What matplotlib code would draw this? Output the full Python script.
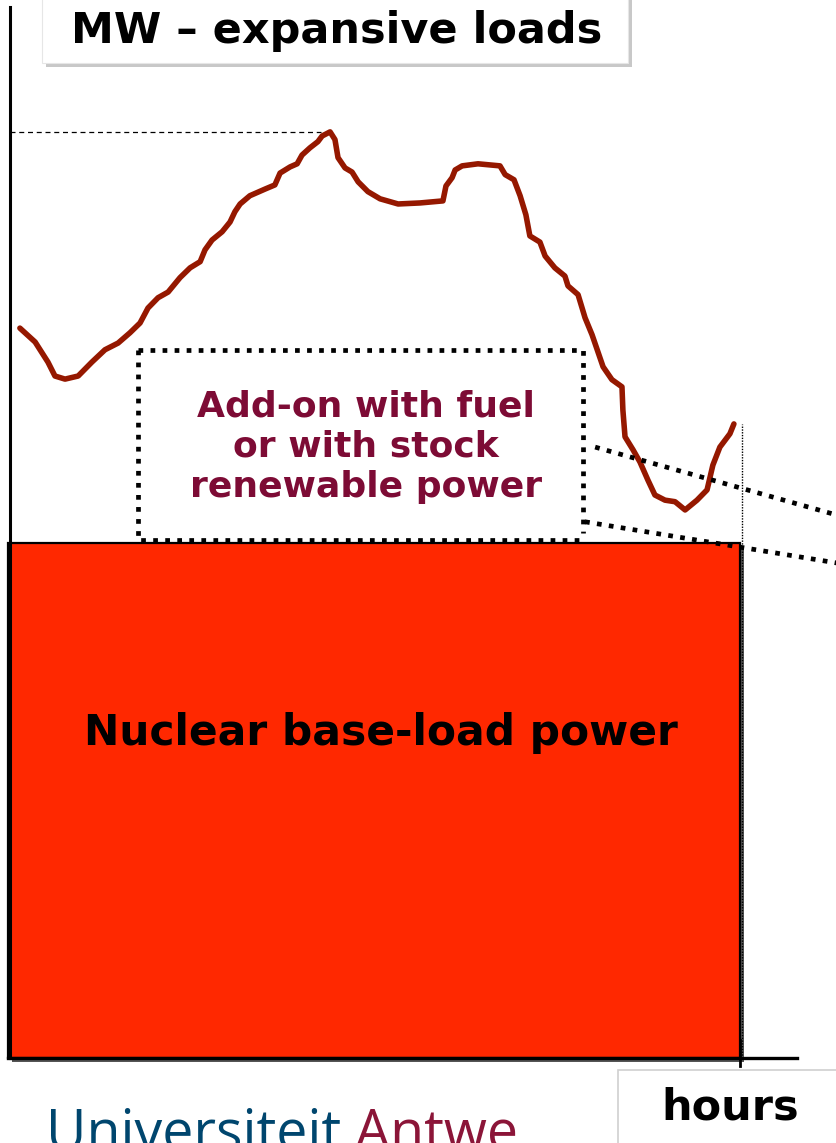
import matplotlib
matplotlib.use("Agg")
import matplotlib.pyplot as plt
from matplotlib.patches import Rectangle

W, H = 837, 1143

# load curve over one day (hours, MW)
hours = [0.39, 0.89, 1.31, 1.54, 1.87, 2.30, 2.75, 3.18, 3.61, 4.00, 4.33, 4.59,
         4.92, 5.25, 5.64, 5.97, 6.30, 6.46, 6.69, 7.02, 7.28, 7.44, 7.61, 7.93,
         8.43, 8.75, 8.92, 9.25, 9.48, 9.64, 9.90, 10.16, 10.30, 10.56, 10.72, 10.82,
         11.05, 11.28, 11.48, 11.80, 12.20, 12.79, 13.51, 14.26, 14.36, 14.56, 14.66,
         14.89, 15.41, 16.13, 16.30, 16.59, 16.79, 16.98, 17.11, 17.44, 17.61, 17.93,
         18.26, 18.36, 18.69, 18.92, 19.15, 19.51, 19.80, 20.13, 20.16, 20.23, 20.49,
         20.72, 20.98, 21.21, 21.54, 21.87, 22.20, 22.59, 22.92, 23.11, 23.34, 23.67,
         23.80]
load = [141.7, 139.0, 135.1, 132.4, 131.8, 132.4, 135.1, 137.5, 138.8, 140.8, 142.7,
        145.6, 147.6, 148.7, 151.5, 153.4, 154.6, 156.9, 158.8, 160.4, 162.3, 164.3,
        165.8, 167.4, 168.7, 169.5, 171.8, 173.0, 173.6, 175.3, 176.7, 177.9, 179.0,
        179.8, 178.3, 174.8, 172.8, 172.0, 170.1, 168.2, 166.8, 165.8, 166.0, 166.4,
        169.3, 170.9, 172.4, 173.2, 173.6, 173.2, 171.5, 170.5, 167.4, 163.7, 159.6,
        158.4, 155.7, 153.4, 151.8, 149.9, 148.2, 143.7, 140.4, 134.2, 131.7, 130.3,
        125.8, 120.6, 118.1, 115.7, 112.2, 109.3, 108.3, 108.0, 106.4, 108.3, 110.3,
        115.1, 118.6, 121.2, 123.1]
base_load = 100
peak_load = 179.8
day_hours = 24

fig = plt.figure(figsize=(W / 100, H / 100), dpi=100)
ax = fig.add_axes([0, 0, 1, 1])
ax.set_xlim(-0.262, 27.18)
ax.set_ylim(-16.5, 205.4)
ax.axis('off')


def fx(px):
    return px / W


def fy(py):
    return 1 - py / H


# nuclear base load block
ax.add_patch(Rectangle((0.12, -0.8), day_hours, base_load, facecolor='#555555',
                       edgecolor='none', zorder=1))
ax.add_patch(Rectangle((0, 0), day_hours, base_load, facecolor='#ff2800',
                       edgecolor='black', linewidth=1.6, zorder=2))

# axes lines
ax.plot([0.07, 0.07], [0, 204], color='black', lw=2.2, zorder=3)
ax.plot([0, 25.87], [0, 0], color='black', lw=2.4, zorder=3)
ax.plot([day_hours, day_hours], [-1.6, 3.5], color='black', lw=2.0, zorder=3)
ax.plot([day_hours + 0.05, day_hours + 0.05], [0, load[-1]], color='black',
        lw=1.0, linestyle=(0, (1, 1)), zorder=3)

# peak reference line
ax.plot([0.07, hours[33] - 0.3], [peak_load, peak_load], color='black', lw=0.9,
        linestyle=(0, (4, 3)), zorder=3)

# load curve
ax.plot(hours, load, color='#951800', lw=4.0, solid_capstyle='round',
        solid_joinstyle='round', zorder=4)

# dotted add-on box and projection lines
dots = dict(color='black', lw=3.4, linestyle=(0, (1, 1.55)), zorder=5)
bx0, bx1, by0, by1 = 4.26, 18.85, 100.6, 137.5
ax.plot([bx0, bx1, bx1], [by1, by1, 102.0], **dots)
ax.plot([bx0, bx0, bx1], [by1, by0, by0], **dots)
ax.plot([19.25, 27.18], [118.6, 105.4], **dots)
ax.plot([18.92, 27.18], [104.1, 96.1], **dots)

# texts
ax.text(373 / 30.5, (1058 - 733) / 5.15, 'Nuclear base-load power', ha='center',
        va='center', fontsize=30.5, fontweight='bold', color='black', zorder=6)
ax.text(358 / 30.5, (1058 - 447) / 5.15,
        'Add-on with fuel\nor with stock\nrenewable power', ha='center',
        va='center', fontsize=26, fontweight='bold', color='#7d0b35',
        linespacing=1.22, zorder=6)

# title box
fig.add_artist(Rectangle((fx(46), fy(67)), (628 - 42) / W, 75 / H,
                         transform=fig.transFigure, facecolor='#c8c8c8',
                         edgecolor='none', zorder=7))
fig.add_artist(Rectangle((fx(42), fy(63)), (628 - 42) / W, 75 / H,
                         transform=fig.transFigure, facecolor='white',
                         edgecolor='#e6e6e6', lw=0.8, zorder=8))
fig.text(fx(337), fy(31), 'MW \u2013 expansive loads', ha='center', va='center',
         fontsize=31, fontweight='bold', color='black', zorder=9)

# hours box
fig.add_artist(Rectangle((fx(618), fy(1150)), 230 / W, 80 / H,
                         transform=fig.transFigure, facecolor='white',
                         edgecolor='#d0d0d0', lw=1.2, zorder=7))
fig.text(fx(730), fy(1107), 'hours', ha='center', va='center',
         fontsize=31, fontweight='bold', color='black', zorder=9)

# university logo text (cut by the bottom edge as in the slide)
t = fig.text(fx(46), fy(1149), 'Universiteit ', ha='left', va='baseline',
             fontsize=40, family='Open Sans', color='#00466e', zorder=9)
fig.canvas.draw()
bb = t.get_window_extent()
fig.text(bb.x1 / W, fy(1149), 'Antwe', ha='left', va='baseline',
         fontsize=40, family='Open Sans', color='#8b1538', zorder=9)

fig.savefig('out.png', dpi=100)
